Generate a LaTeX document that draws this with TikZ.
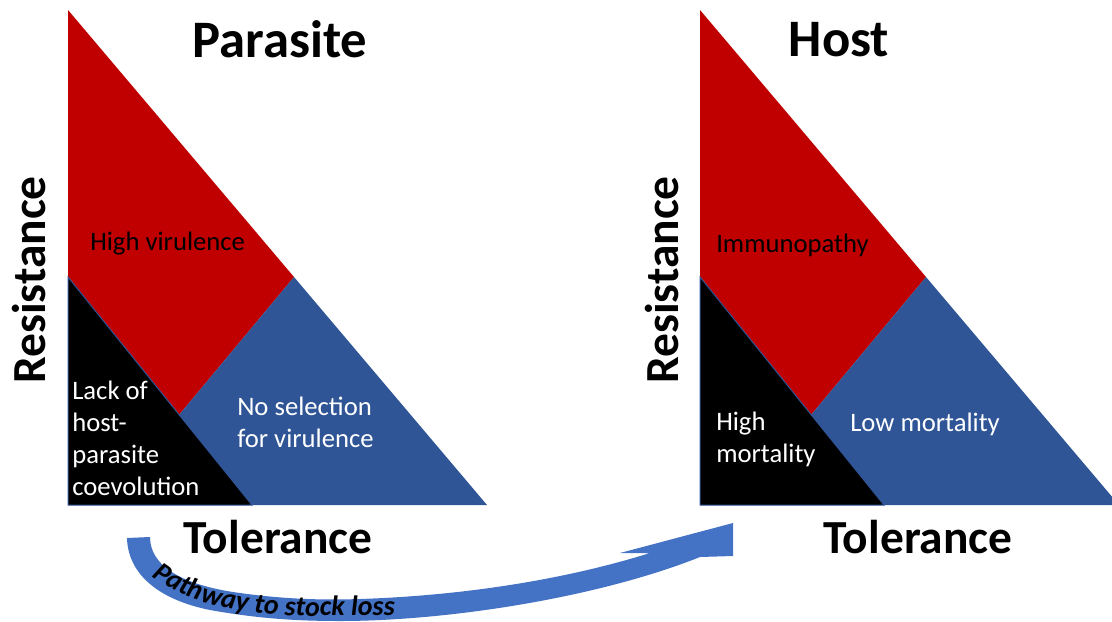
\documentclass[tikz,border=0pt]{standalone}
\usepackage{fontspec}
\setmainfont{Carlito}
\usetikzlibrary{decorations.text}
\definecolor{pred}{HTML}{C00000}
\definecolor{pblue}{HTML}{2F5597}
\definecolor{arrblue}{HTML}{4472C4}
\begin{document}
\begin{tikzpicture}[x=0.75pt,y=-0.75pt,
  title/.style={font=\bfseries\fontsize{35.6}{40}\selectfont, inner sep=0pt},
  bigtitle/.style={font=\bfseries\fontsize{39.5}{44}\selectfont, inner sep=0pt},
  lbl/.style={font=\fontsize{20}{24}\selectfont, align=left, anchor=west, inner sep=0pt},
  wlbl/.style={lbl, text=white},
  blackreg/.style={fill=black, draw=pblue, line width=0.75pt}]
\useasboundingbox (0,0) rectangle (1112,621);
\begin{scope}
\clip (0,0) rectangle (1112,621);
% left triangle (parasite)
\fill[pred] (68,10) -- (294,277) -- (179,415) -- (68,277) -- cycle;
\fill[pblue] (294,277) -- (487,505) -- (252,505) -- (179,415) -- cycle;
\filldraw[blackreg] (68,277) -- (252,505) -- (68,505) -- cycle;
% right triangle (host)
\fill[pred] (700,10) -- (926,277) -- (811,415) -- (700,277) -- cycle;
\fill[pblue] (926,277) -- (1119,505) -- (884,505) -- (811,415) -- cycle;
\filldraw[blackreg] (700,277) -- (884,505) -- (700,505) -- cycle;
% curved arrow
\fill[arrblue] (127,538) .. controls (128,575) and (160,600) .. (210,610)
  .. controls (260,619) and (300,621) .. (340,621)
  .. controls (450,621) and (600,597) .. (700,557)
  -- (733,556) -- (733,523) -- (620,553) -- (650,553)
  .. controls (580,575) and (480,595) .. (360,599)
  .. controls (330,600) and (290,600) .. (240,593)
  .. controls (180,585) and (150,565) .. (150,537) -- cycle;
\end{scope}
\path[decorate, decoration={text along path, text align=left,
  text={|\fontsize{21}{24}\selectfont\bfseries\itshape|Pathway to stock loss}}]
  (152,576) .. controls (185,603) and (240,615) .. (310,616) -- (460,615);
% titles and axes
\node[bigtitle] (ptitle) at (280,39) {Parasite};
\node[bigtitle] (htitle) at (839,40) {Host};
\node[title] (ptol) at (278,537) {Tolerance};
\node[title] (htol) at (918,537) {Tolerance};
\node[title, rotate=90] (pres) at (29,280) {Resistance};
\node[title, rotate=90] (hres) at (662,280) {Resistance};
% region labels
\node[lbl] (hv) at (90,244) {High virulence};
\node[lbl] (im) at (716,245) {Immunopathy};
\node[wlbl] (lack) at (72,438) {Lack of\\host-\\parasite\\coevolution};
\node[wlbl] (nosel) at (237,422) {No selection\\for virulence};
\node[wlbl] (himort) at (716,439) {High\\mortality};
\node[wlbl] (lomort) at (850,424) {Low mortality};
\end{tikzpicture}
\end{document}
